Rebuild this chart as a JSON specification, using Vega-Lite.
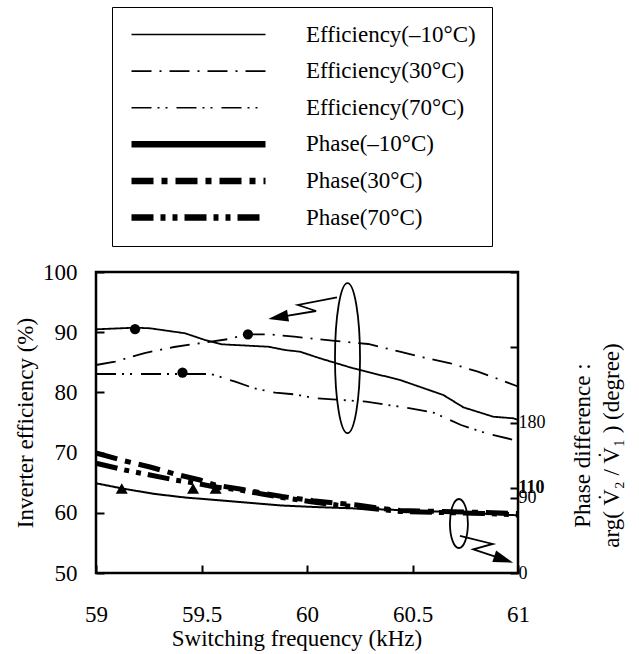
{
  "$schema": "https://vega.github.io/schema/vega-lite/v6.json",
  "width": 422,
  "height": 301,
  "autosize": {"type": "none"},
  "padding": {"left": 96, "top": 272, "right": 121, "bottom": 81},
  "background": "white",
  "config": {
    "font": "Liberation Serif, serif",
    "view": {"stroke": "black", "strokeWidth": 2.5},
    "axis": {
      "grid": false,
      "domain": false,
      "tickColor": "black",
      "tickWidth": 2,
      "tickSize": -8,
      "labelFont": "Liberation Serif, serif",
      "labelFontSize": 23,
      "labelColor": "black",
      "titleFont": "Liberation Serif, serif",
      "titleFontSize": 23,
      "titleFontWeight": "normal",
      "titleColor": "black"
    }
  },
  "datasets": {
    "eff": [
      {"series": "Efficiency(–10°C)", "freq": 59.0, "eff": 90.48},
      {"series": "Efficiency(–10°C)", "freq": 59.185, "eff": 90.75},
      {"series": "Efficiency(–10°C)", "freq": 59.256, "eff": 90.65},
      {"series": "Efficiency(–10°C)", "freq": 59.422, "eff": 89.82},
      {"series": "Efficiency(–10°C)", "freq": 59.517, "eff": 88.7},
      {"series": "Efficiency(–10°C)", "freq": 59.596, "eff": 87.99},
      {"series": "Efficiency(–10°C)", "freq": 59.659, "eff": 87.87},
      {"series": "Efficiency(–10°C)", "freq": 59.817, "eff": 87.59},
      {"series": "Efficiency(–10°C)", "freq": 59.896, "eff": 87.04},
      {"series": "Efficiency(–10°C)", "freq": 59.967, "eff": 86.76},
      {"series": "Efficiency(–10°C)", "freq": 60.062, "eff": 85.66},
      {"series": "Efficiency(–10°C)", "freq": 60.219, "eff": 84.0},
      {"series": "Efficiency(–10°C)", "freq": 60.441, "eff": 82.06},
      {"series": "Efficiency(–10°C)", "freq": 60.646, "eff": 79.57},
      {"series": "Efficiency(–10°C)", "freq": 60.741, "eff": 77.52},
      {"series": "Efficiency(–10°C)", "freq": 60.883, "eff": 75.96},
      {"series": "Efficiency(–10°C)", "freq": 60.978, "eff": 75.7},
      {"series": "Efficiency(–10°C)", "freq": 61.0, "eff": 75.42},
      {"series": "Efficiency(30°C)", "freq": 59.0, "eff": 84.55},
      {"series": "Efficiency(30°C)", "freq": 59.09, "eff": 85.1},
      {"series": "Efficiency(30°C)", "freq": 59.23, "eff": 86.54},
      {"series": "Efficiency(30°C)", "freq": 59.37, "eff": 87.54},
      {"series": "Efficiency(30°C)", "freq": 59.5, "eff": 88.21},
      {"series": "Efficiency(30°C)", "freq": 59.63, "eff": 88.87},
      {"series": "Efficiency(30°C)", "freq": 59.72, "eff": 89.65},
      {"series": "Efficiency(30°C)", "freq": 59.82, "eff": 89.65},
      {"series": "Efficiency(30°C)", "freq": 59.94, "eff": 89.25},
      {"series": "Efficiency(30°C)", "freq": 60.12, "eff": 88.59},
      {"series": "Efficiency(30°C)", "freq": 60.29, "eff": 88.04},
      {"series": "Efficiency(30°C)", "freq": 60.44, "eff": 86.76},
      {"series": "Efficiency(30°C)", "freq": 60.55, "eff": 85.83},
      {"series": "Efficiency(30°C)", "freq": 60.68, "eff": 84.83},
      {"series": "Efficiency(30°C)", "freq": 60.81, "eff": 83.44},
      {"series": "Efficiency(30°C)", "freq": 60.91, "eff": 82.18},
      {"series": "Efficiency(30°C)", "freq": 61.0, "eff": 80.98},
      {"series": "Efficiency(70°C)", "freq": 59.0, "eff": 83.06},
      {"series": "Efficiency(70°C)", "freq": 59.54, "eff": 83.06},
      {"series": "Efficiency(70°C)", "freq": 59.56, "eff": 82.89},
      {"series": "Efficiency(70°C)", "freq": 59.66, "eff": 81.78},
      {"series": "Efficiency(70°C)", "freq": 59.75, "eff": 80.68},
      {"series": "Efficiency(70°C)", "freq": 59.85, "eff": 79.95},
      {"series": "Efficiency(70°C)", "freq": 59.94, "eff": 79.68},
      {"series": "Efficiency(70°C)", "freq": 60.04, "eff": 79.02},
      {"series": "Efficiency(70°C)", "freq": 60.12, "eff": 78.85},
      {"series": "Efficiency(70°C)", "freq": 60.28, "eff": 78.46},
      {"series": "Efficiency(70°C)", "freq": 60.49, "eff": 77.36},
      {"series": "Efficiency(70°C)", "freq": 60.6, "eff": 76.63},
      {"series": "Efficiency(70°C)", "freq": 60.73, "eff": 74.58},
      {"series": "Efficiency(70°C)", "freq": 60.85, "eff": 73.21},
      {"series": "Efficiency(70°C)", "freq": 60.98, "eff": 72.1},
      {"series": "Efficiency(70°C)", "freq": 61.0, "eff": 71.81}
    ],
    "effMarkers": [
      {"series": "Efficiency(–10°C)", "freq": 59.185, "eff": 90.5},
      {"series": "Efficiency(30°C)", "freq": 59.72, "eff": 89.65},
      {"series": "Efficiency(70°C)", "freq": 59.41, "eff": 83.3}
    ],
    "phase": [
      {"series": "Phase(–10°C)", "freq": 59.0, "phase": 107.3},
      {"series": "Phase(–10°C)", "freq": 59.137, "phase": 100.5},
      {"series": "Phase(–10°C)", "freq": 59.28, "phase": 94.5},
      {"series": "Phase(–10°C)", "freq": 59.422, "phase": 90.3},
      {"series": "Phase(–10°C)", "freq": 59.626, "phase": 86.1},
      {"series": "Phase(–10°C)", "freq": 59.882, "phase": 80.7},
      {"series": "Phase(–10°C)", "freq": 60.038, "phase": 78.9},
      {"series": "Phase(–10°C)", "freq": 60.36, "phase": 76.0},
      {"series": "Phase(–10°C)", "freq": 60.678, "phase": 73.0},
      {"series": "Phase(–10°C)", "freq": 61.0, "phase": 69.0},
      {"series": "Phase(30°C)", "freq": 59.0, "phase": 143.5},
      {"series": "Phase(30°C)", "freq": 59.137, "phase": 134.0},
      {"series": "Phase(30°C)", "freq": 59.256, "phase": 126.8},
      {"series": "Phase(30°C)", "freq": 59.374, "phase": 118.4},
      {"series": "Phase(30°C)", "freq": 59.493, "phase": 111.2},
      {"series": "Phase(30°C)", "freq": 59.564, "phase": 105.3},
      {"series": "Phase(30°C)", "freq": 59.682, "phase": 100.5},
      {"series": "Phase(30°C)", "freq": 59.787, "phase": 95.7},
      {"series": "Phase(30°C)", "freq": 59.882, "phase": 91.5},
      {"series": "Phase(30°C)", "freq": 60.028, "phase": 86.5},
      {"series": "Phase(30°C)", "freq": 60.142, "phase": 83.4},
      {"series": "Phase(30°C)", "freq": 60.237, "phase": 81.3},
      {"series": "Phase(30°C)", "freq": 60.346, "phase": 77.4},
      {"series": "Phase(30°C)", "freq": 60.441, "phase": 74.8},
      {"series": "Phase(30°C)", "freq": 60.63, "phase": 73.6},
      {"series": "Phase(30°C)", "freq": 60.834, "phase": 72.4},
      {"series": "Phase(30°C)", "freq": 61.0, "phase": 71.2},
      {"series": "Phase(70°C)", "freq": 59.0, "phase": 131.2},
      {"series": "Phase(70°C)", "freq": 59.137, "phase": 123.2},
      {"series": "Phase(70°C)", "freq": 59.256, "phase": 117.2},
      {"series": "Phase(70°C)", "freq": 59.374, "phase": 111.2},
      {"series": "Phase(70°C)", "freq": 59.493, "phase": 106.5},
      {"series": "Phase(70°C)", "freq": 59.564, "phase": 102.9},
      {"series": "Phase(70°C)", "freq": 59.682, "phase": 99.3},
      {"series": "Phase(70°C)", "freq": 59.787, "phase": 94.5},
      {"series": "Phase(70°C)", "freq": 59.882, "phase": 90.3},
      {"series": "Phase(70°C)", "freq": 60.028, "phase": 84.9},
      {"series": "Phase(70°C)", "freq": 60.142, "phase": 81.3},
      {"series": "Phase(70°C)", "freq": 60.237, "phase": 78.9},
      {"series": "Phase(70°C)", "freq": 60.346, "phase": 76.0},
      {"series": "Phase(70°C)", "freq": 60.441, "phase": 73.6},
      {"series": "Phase(70°C)", "freq": 60.63, "phase": 72.4},
      {"series": "Phase(70°C)", "freq": 60.834, "phase": 71.2},
      {"series": "Phase(70°C)", "freq": 61.0, "phase": 69.4}
    ],
    "phaseMarkers": [
      {"series": "Phase(–10°C)", "freq": 59.122, "phase": 101},
      {"series": "Phase(70°C)", "freq": 59.46, "phase": 101},
      {"series": "Phase(30°C)", "freq": 59.567, "phase": 101}
    ],
    "arrows": [
      {"ann": "upper", "i": 0, "freq": 60.142, "eff": 95.8},
      {"ann": "upper", "i": 1, "freq": 59.957, "eff": 94.52},
      {"ann": "upper", "i": 2, "freq": 60.043, "eff": 93.52},
      {"ann": "upper", "i": 3, "freq": 59.875, "eff": 92.54},
      {"ann": "lower", "i": 0, "freq": 60.725, "eff": 56.15},
      {"ann": "lower", "i": 1, "freq": 60.88, "eff": 54.82},
      {"ann": "lower", "i": 2, "freq": 60.788, "eff": 53.94},
      {"ann": "lower", "i": 3, "freq": 60.921, "eff": 52.38}
    ],
    "heads": [
      {"ann": "upper", "freq": 59.875, "eff": 92.54, "angle": 350.5},
      {"ann": "lower", "freq": 60.921, "eff": 52.38, "angle": 198.5}
    ]
  },
  "layer": [
    {
      "layer": [
        {
          "data": {"name": "eff"},
          "mark": {"type": "line", "color": "black", "strokeWidth": 1.8},
          "encoding": {
            "x": {
              "field": "freq", "type": "quantitative",
              "scale": {"domain": [59, 61], "nice": false, "zero": false},
              "axis": {
                "values": [59, 59.5, 60, 60.5, 61],
                "labelExpr": "datum.value + ''",
                "labelFlush": false,
                "labelPadding": 38,
                "title": "Switching frequency (kHz)",
                "titleX": 200.5,
                "titleY": 65,
                "titleBaseline": "middle",
                "titleAlign": "center"
              }
            },
            "y": {
              "field": "eff", "type": "quantitative",
              "scale": {"domain": [50, 100], "nice": false, "zero": false},
              "axis": {
                "values": [50, 60, 70, 80, 90, 100],
                "labelPadding": 27,
                "title": "Inverter efficiency (%)",
                "titleX": -71,
                "titleY": 150.5,
                "titleBaseline": "middle",
                "titleAlign": "center",
                "titleAngle": 270
              }
            },
            "strokeDash": {
              "field": "series", "type": "nominal",
              "scale": {
                "domain": ["Efficiency(–10°C)", "Efficiency(30°C)", "Efficiency(70°C)", "Phase(–10°C)", "Phase(30°C)", "Phase(70°C)"],
                "range": [[1, 0], [20, 8, 2, 8], [20, 6, 2, 6, 2, 9], [1, 0], [22, 8, 6, 8], [22, 7, 5, 7, 5, 7]]
              },
              "legend": {
                "orient": "none",
                "legendX": 16,
                "legendY": -265,
                "title": null,
                "symbolType": "stroke",
                "symbolSize": 17956,
                "symbolStrokeColor": "black",
                "symbolOpacity": 1,
                "labelFont": "Liberation Serif, serif",
                "labelFontSize": 23,
                "labelColor": "black",
                "labelOffset": 37,
                "labelLimit": 400,
                "clipHeight": 23,
                "rowPadding": 12.6,
                "padding": 16,
                "strokeColor": "black"
              }
            }
          }
        },
        {
          "data": {"name": "eff"},
          "mark": {"type": "line", "color": "black", "opacity": 0},
          "encoding": {
            "x": {"field": "freq", "type": "quantitative"},
            "y": {"field": "eff", "type": "quantitative"},
            "strokeDash": {"field": "series", "type": "nominal"},
            "strokeWidth": {
              "field": "series", "type": "nominal",
              "scale": {
                "type": "ordinal",
                "domain": ["Efficiency(–10°C)", "Efficiency(30°C)", "Efficiency(70°C)", "Phase(–10°C)", "Phase(30°C)", "Phase(70°C)"],
                "range": [1.6, 1.6, 1.6, 6.5, 6.5, 6.5]
              }
            }
          }
        },
        {
          "data": {"name": "effMarkers"},
          "mark": {"type": "point", "shape": "circle", "filled": true, "color": "black", "size": 105, "opacity": 1},
          "encoding": {
            "x": {"field": "freq", "type": "quantitative"},
            "y": {"field": "eff", "type": "quantitative"}
          }
        },
        {
          "data": {"values": [{"freq": 60.192, "eff": 85.71}]},
          "mark": {"type": "point", "shape": "M0,-1 C0.092,-1 0.167,-0.552 0.167,0 C0.167,0.552 0.092,1 0,1 C-0.092,1 -0.167,0.552 -0.167,0 C-0.167,-0.552 -0.092,-1 0,-1 Z", "size": 22500, "filled": false, "color": "black", "strokeWidth": 1.8, "opacity": 1},
          "encoding": {
            "x": {"field": "freq", "type": "quantitative"},
            "y": {"field": "eff", "type": "quantitative"}
          }
        },
        {
          "data": {"values": [{"freq": 60.72, "eff": 58.22}]},
          "mark": {"type": "point", "shape": "M0,-1 C0.203,-1 0.367,-0.552 0.367,0 C0.367,0.552 0.203,1 0,1 C-0.203,1 -0.367,0.552 -0.367,0 C-0.367,-0.552 -0.203,-1 0,-1 Z", "size": 2401, "filled": false, "color": "black", "strokeWidth": 1.8, "opacity": 1},
          "encoding": {
            "x": {"field": "freq", "type": "quantitative"},
            "y": {"field": "eff", "type": "quantitative"}
          }
        },
        {
          "data": {"name": "arrows"},
          "mark": {"type": "line", "color": "black", "strokeWidth": 1.8},
          "encoding": {
            "x": {"field": "freq", "type": "quantitative"},
            "y": {"field": "eff", "type": "quantitative"},
            "detail": {"field": "ann"},
            "order": {"field": "i"}
          }
        },
        {
          "data": {"name": "heads"},
          "mark": {"type": "point", "shape": "M-1,0 L0.6,-0.48 L0.6,0.48 Z", "size": 625, "filled": true, "color": "black", "opacity": 1},
          "encoding": {
            "x": {"field": "freq", "type": "quantitative"},
            "y": {"field": "eff", "type": "quantitative"},
            "angle": {"field": "angle", "type": "quantitative", "scale": null}
          }
        }
      ]
    },
    {
      "layer": [
        {
          "data": {"name": "phase"},
          "transform": [{"filter": "datum.series == 'Phase(–10°C)'"}],
          "mark": {"type": "line", "color": "black", "strokeWidth": 2},
          "encoding": {
            "x": {"field": "freq", "type": "quantitative"},
            "y": {
              "field": "phase", "type": "quantitative",
              "scale": {"domain": [0, 360], "nice": false, "zero": true},
              "axis": {
                "orient": "right",
                "values": [0, 90, 101.7, 180, 270, 360],
                "labelExpr": "datum.value==0?'0':datum.value==90?'90':datum.value==180?'180':(datum.value>100&&datum.value<105)?'110':''",
                "labelFontWeight": {"condition": {"test": "datum.value>100 && datum.value<105", "value": "bold"}, "value": "normal"},
                "labelOverlap": false,
                "labelFontSize": 18,
                "labelPadding": 8,
                "title": ["Phase difference :", "arg( V̇₂ / V̇₁ ) (degree)"],
                "titleAngle": 270,
                "titleX": 64,
                "titleY": 173,
                "titleBaseline": "middle",
                "titleAlign": "center",
                "titleLineHeight": 29
              }
            },
            "strokeDash": {"field": "series", "type": "nominal"}
          }
        },
        {
          "data": {"name": "phase"},
          "transform": [{"filter": "datum.series != 'Phase(–10°C)'"}],
          "mark": {"type": "line", "color": "black", "strokeWidth": 5},
          "encoding": {
            "x": {"field": "freq", "type": "quantitative"},
            "y": {"field": "phase", "type": "quantitative"},
            "strokeDash": {"field": "series", "type": "nominal"}
          }
        },
        {
          "data": {"name": "phaseMarkers"},
          "mark": {"type": "point", "shape": "triangle-up", "filled": true, "color": "black", "size": 144, "opacity": 1},
          "encoding": {
            "x": {"field": "freq", "type": "quantitative"},
            "y": {"field": "phase", "type": "quantitative"}
          }
        },
        {
          "mark": {"type": "rule", "color": "black", "strokeWidth": 2},
          "encoding": {
            "y": {"datum": 101.7, "type": "quantitative"}
          }
        }
      ]
    }
  ],
  "resolve": {"scale": {"y": "independent"}}
}
